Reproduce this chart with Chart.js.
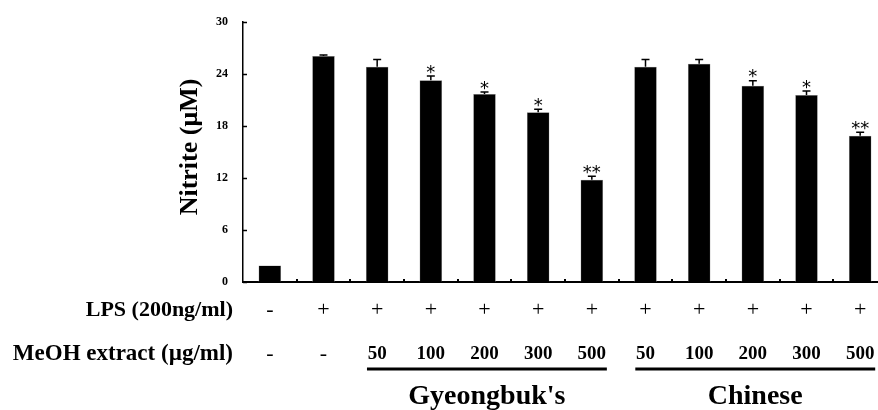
<!DOCTYPE html>
<html>
<head>
<meta charset="utf-8">
<script src="https://cdn.jsdelivr.net/npm/chart.js@4/dist/chart.umd.min.js"></script>
<style>
  html, body { margin: 0; padding: 0; background: #fff; }
  #chart { display: block; }
</style>
</head>
<body>
<canvas id="chart" width="878" height="410"></canvas>
<script>
// groups, left to right
const groups = ['Control', 'LPS', 'G50', 'G100', 'G200', 'G300', 'G500', 'C50', 'C100', 'C200', 'C300', 'C500'];
const lpsSigns = ['-', '+', '+', '+', '+', '+', '+', '+', '+', '+', '+', '+'];
const doses = ['-', '-', '50', '100', '200', '300', '500', '50', '100', '200', '300', '500'];
const nitrite = [1.9, 26.1, 24.85, 23.3, 21.7, 19.6, 11.8, 24.85, 25.2, 22.65, 21.6, 16.9];
const errors = [0, 0.1, 0.85, 0.5, 0.25, 0.35, 0.4, 0.85, 0.5, 0.6, 0.45, 0.4];
const marks = ['', '', '', '*', '*', '*', '**', '', '', '*', '*', '**'];
const yTicks = [0, 6, 12, 18, 24, 30];
const extractGroups = [
  { name: "Gyeongbuk's", from: 2, to: 6 },
  { name: 'Chinese', from: 7, to: 11 },
];

const serif = '"Liberation Serif", "Times New Roman", serif';

// the original figure is cut off on the right: let the x axis run past the edge
const overflowRight = {
  id: 'overflowRight',
  afterLayout(chart) {
    const extra = 9;
    const xs = chart.scales.x;
    xs.right += extra;
    xs.width += extra;
    chart.chartArea.right += extra;
    chart.chartArea.width += extra;
    xs.configure();
  },
};

// error bars, asterisks, inward ticks and the treatment table under the axis
const annotations = {
  id: 'annotations',
  afterDatasetsDraw(chart) {
    const { ctx, chartArea } = chart;
    const xs = chart.scales.x;
    const ys = chart.scales.y;
    const meta = chart.getDatasetMeta(0);
    ctx.save();

    // y ticks pointing inward
    ctx.strokeStyle = '#000';
    ctx.lineWidth = 1.5;
    for (const v of yTicks) {
      const y = Math.round(ys.getPixelForValue(v)) + 0.5;
      ctx.beginPath();
      ctx.moveTo(chartArea.left, y);
      ctx.lineTo(chartArea.left + 4, y);
      ctx.stroke();
    }
    // x ticks between groups, small and inward
    const step = xs.width / groups.length;
    for (let i = 1; i < groups.length; i++) {
      const x = Math.round(xs.left + i * step);
      ctx.fillStyle = '#000';
      ctx.fillRect(x - 1, chartArea.bottom - 3, 2, 3);
    }

    // error bars (upper only) and significance marks
    meta.data.forEach((bar, i) => {
      const x = bar.x;
      const yTop = ys.getPixelForValue(nitrite[i] + errors[i]);
      if (errors[i] > 0) {
        ctx.lineWidth = 1.5;
        ctx.beginPath();
        ctx.moveTo(x, bar.y);
        ctx.lineTo(x, yTop);
        ctx.moveTo(x - 4, yTop);
        ctx.lineTo(x + 4, yTop);
        ctx.stroke();
      }
      if (marks[i]) {
        ctx.fillStyle = '#000';
        ctx.font = '18px "DejaVu Sans", sans-serif';
        ctx.textAlign = 'center';
        ctx.textBaseline = 'middle';
        ctx.fillText(marks[i], x, yTop - 3);
      }
    });

    // treatment rows
    const rowLps = 310;
    const rowDose = 354;
    ctx.fillStyle = '#000';
    ctx.textBaseline = 'middle';
    ctx.textAlign = 'right';
    ctx.font = 'bold 22px ' + serif;
    ctx.fillText('LPS (200ng/ml)', 233, rowLps);
    ctx.font = 'bold 23px ' + serif;
    ctx.fillText('MeOH extract (\u00b5g/ml)', 233, rowDose);

    ctx.textAlign = 'center';
    groups.forEach((g, i) => {
      const x = xs.getPixelForValue(i);
      ctx.font = '22px ' + serif;
      ctx.fillText(lpsSigns[i], x, rowLps);
      if (doses[i] === '-') {
        ctx.fillText(doses[i], x, rowDose);
      } else {
        ctx.font = 'bold 19px ' + serif;
        ctx.fillText(doses[i], x, rowDose);
      }
    });

    // underlines with group names
    for (const grp of extractGroups) {
      const x0 = xs.getPixelForValue(grp.from) - step * 0.19;
      const x1 = xs.getPixelForValue(grp.to) + step * 0.28;
      ctx.lineWidth = 3;
      ctx.beginPath();
      ctx.moveTo(x0, 369);
      ctx.lineTo(x1, 369);
      ctx.stroke();
      ctx.font = 'bold 28px ' + serif;
      ctx.fillText(grp.name, (x0 + x1) / 2, 397);
    }

    // y axis title
    ctx.translate(190, 147);
    ctx.rotate(-Math.PI / 2);
    ctx.font = 'bold 26px ' + serif;
    ctx.fillText('Nitrite (\u03bcM)', 0, 0);
    ctx.restore();
  },
};

const ctx = document.querySelector('#chart').getContext('2d');
// eslint-disable-next-line no-undef
new Chart(ctx, {
  type: 'bar',
  data: {
    labels: groups,
    datasets: [
      {
        data: nitrite,
        backgroundColor: '#000',
        borderColor: '#888',
        borderWidth: 0.5,
        barPercentage: 0.42,
        categoryPercentage: 1,
      },
    ],
  },
  options: {
    responsive: false,
    animation: false,
    events: [],
    layout: { padding: { top: 14, right: 0, bottom: 128, left: 0 } },
    plugins: { legend: { display: false }, tooltip: { enabled: false } },
    scales: {
      x: {
        grid: { display: false, drawTicks: false },
        border: { display: true, color: '#000', width: 2 },
        ticks: { display: false },
        afterFit(scale) {
          scale.height = 0;
        },
      },
      y: {
        min: 0,
        max: 30,
        afterBuildTicks(scale) {
          scale.ticks = yTicks.map((v) => ({ value: v }));
        },
        grid: { display: false, drawTicks: false },
        border: { display: true, color: '#000', width: 1.5 },
        ticks: {
          color: '#000',
          padding: 15,
          font: { family: serif, size: 12, weight: 'bold' },
        },
        afterFit(scale) {
          scale.width = 243;
        },
      },
    },
  },
  plugins: [overflowRight, annotations],
});
</script>
</body>
</html>
